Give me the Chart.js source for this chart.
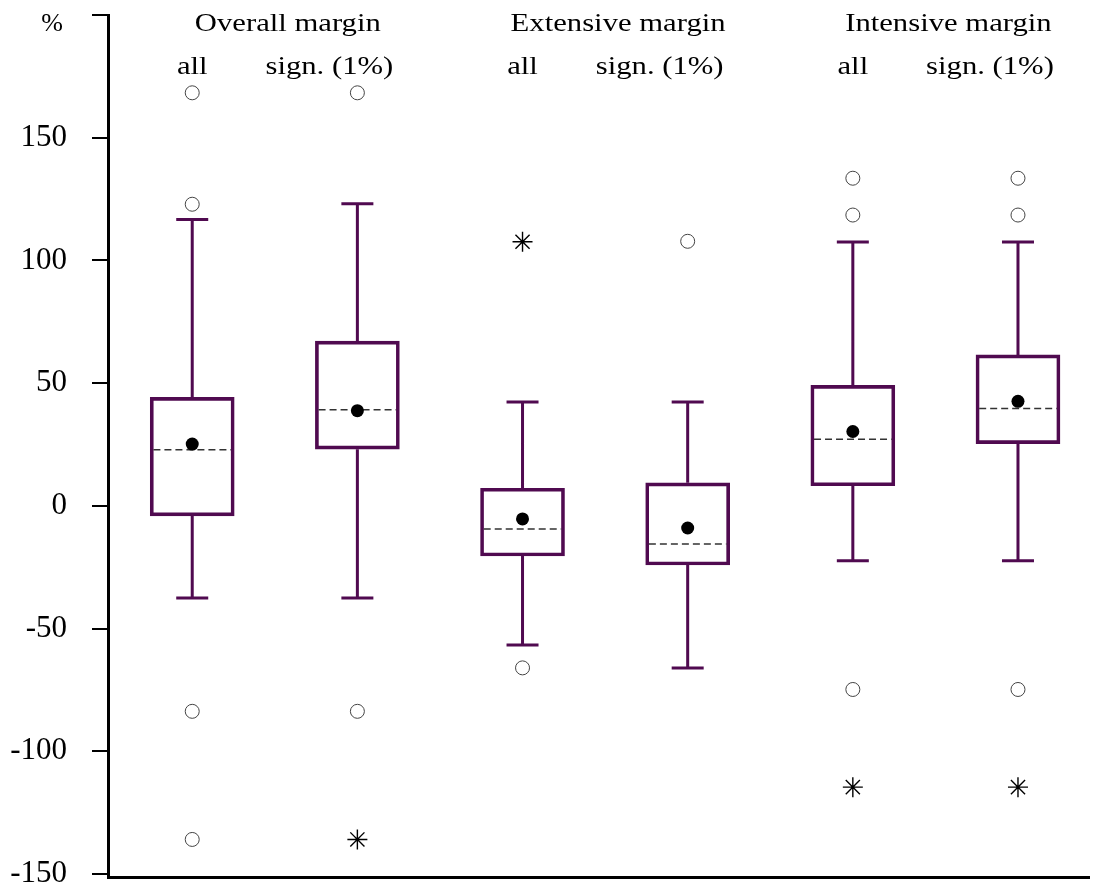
<!DOCTYPE html>
<html>
<head>
<meta charset="utf-8">
<script src="https://cdn.jsdelivr.net/npm/chart.js@4.4.1/dist/chart.umd.min.js"></script>
<style>
  html, body { margin: 0; padding: 0; background: #fff; overflow: hidden; }
  canvas { display: block; }
</style>
</head>
<body>
<canvas id="chart" width="1093" height="889"></canvas>
<script>
"use strict";

// ── Data ─────────────────────────────────────────────────────────────────────
// Six box plots: (overall / extensive / intensive margin) x (all / sign. 1%)

const GROUPS    = ["Overall margin", "Extensive margin", "Intensive margin"];
const SUBGROUPS = ["all", "sign. (1%)"];
const BOX_POS   = [1, 2, 3, 4, 5, 6];

const LOW  = [-37.5, -37.5, -56.7, -66.0, -22.4, -22.4];
const Q1   = [ -4.1,  23.1, -20.4, -24.1,   8.2,  25.4];
const MED  = [ 22.9,  39.2,  -9.4, -15.5,  27.2,  39.7];
const MEAN = [ 25.2,  38.8,  -5.3,  -9.0,  30.3,  42.6];
const Q3   = [ 44.2,  67.1,   7.2,   9.4,  49.1,  61.5];
const HIGH = [116.7, 123.1,  42.3,  42.3, 107.5, 107.5];

// outliers: which box, and the value
const CIRCLE_BOX = [1, 1, 1, 1, 2, 2, 3, 4, 5, 5, 5, 6, 6, 6];
const CIRCLE_VAL = [168.3, 122.9, -83.7, -135.9, 168.3, -83.7, -66.0, 107.8, 133.5, 118.5, -74.8, 133.5, 118.5, -74.8];
const STAR_BOX   = [2, 3, 5, 6];
const STAR_VAL   = [-135.9, 107.6, -114.6, -114.6];

const Y_TICKS = [-150, -100, -50, 0, 50, 100, 150, 200];
const Y_MIN = -151.2, Y_MAX = 200;

// ── Styling ──
const PURPLE = "#500a50";
const SERIF = '"Liberation Serif", "Times New Roman", serif';
const MED_HALF = 0.235;   // half width of the median dash, in x units

// ── Datasets built from the arrays ──
const boxData = BOX_POS.map((p, i) => ({ x: p, y: [Q1[i], Q3[i]] }));

const whiskerData = [];
BOX_POS.forEach((p, i) => {
  whiskerData.push({ x: p, y: LOW[i] }, { x: p, y: Q1[i] }, { x: p, y: null },
                   { x: p, y: Q3[i] }, { x: p, y: HIGH[i] }, { x: p, y: null });
});

const capData = BOX_POS.flatMap((p, i) => [{ x: p, y: LOW[i] }, { x: p, y: HIGH[i] }]);

const medianData = BOX_POS.flatMap((p, i) => [
  { x: p - MED_HALF, y: MED[i] }, { x: p + MED_HALF, y: MED[i] }, { x: p, y: null },
]);

const meanData   = BOX_POS.map((p, i) => ({ x: p, y: MEAN[i] }));
const circleData = CIRCLE_BOX.map((b, i) => ({ x: b, y: CIRCLE_VAL[i] }));
const starData   = STAR_BOX.map((b, i) => ({ x: b, y: STAR_VAL[i] }));

// ── Header labels above the boxes + "%" unit ──
const headerPlugin = {
  id: "header",
  afterDraw(chart) {
    const { ctx, scales: { x } } = chart;
    const put = (text, px, py, size, stretch) => {
      ctx.save();
      ctx.translate(px, py);
      ctx.scale(stretch, 1);
      ctx.font = `${size}px ${SERIF}`;
      ctx.fillStyle = "#000";
      ctx.textAlign = "center";
      ctx.textBaseline = "alphabetic";
      ctx.fillText(text, 0, 0);
      ctx.restore();
    };
    GROUPS.forEach((g, k) => {
      const a = x.getPixelForValue(BOX_POS[2 * k]);
      const b = x.getPixelForValue(BOX_POS[2 * k + 1]);
      put(g, (a + b) / 2 + 13, 31, 26, 1.18);
      put(SUBGROUPS[0], a, 74, 26, 1.18);
      put(SUBGROUPS[1], b - 28, 74, 26, 1.18);
    });
    put("%", 52, 31, 26, 1);
  },
};

new Chart(document.getElementById("chart"), {
  type: "bar",
  data: {
    datasets: [
      { type: "scatter", data: meanData, order: 0,
        pointStyle: "circle", pointRadius: 6.5, pointBorderWidth: 0, pointBackgroundColor: "#000" },
      { type: "scatter", data: circleData, order: 0,
        pointStyle: "circle", pointRadius: 7, pointBorderWidth: 1, pointBorderColor: "#444", pointBackgroundColor: "#fff" },
      { type: "scatter", data: starData, order: 0,
        pointStyle: "star", pointRadius: 10, pointBorderWidth: 1.4, pointBorderColor: "#000" },
      { type: "line", data: medianData, order: 1,
        borderColor: "#333", borderWidth: 1.5, borderDash: [7, 4], pointRadius: 0, spanGaps: false },
      { type: "scatter", data: capData, order: 2,
        pointStyle: "line", pointRadius: 16, pointBorderWidth: 3, pointBorderColor: PURPLE },
      { type: "line", data: whiskerData, order: 3,
        borderColor: PURPLE, borderWidth: 3, pointRadius: 0, spanGaps: false },
      { type: "bar", data: boxData, order: 4,
        backgroundColor: "rgba(0,0,0,0)", borderColor: PURPLE, borderWidth: 3,
        borderSkipped: false, barThickness: 84 },
    ],
  },
  options: {
    responsive: false,
    animation: false,
    devicePixelRatio: 1,
    layout: { autoPadding: false, padding: { top: 15, right: 4, bottom: 12, left: 0 } },
    plugins: { legend: { display: false }, tooltip: { enabled: false } },
    scales: {
      x: {
        type: "linear", min: 0.49, max: 6.43, offset: false,
        afterFit: s => { s.height = 0; s.paddingLeft = 0; s.paddingRight = 0; },
        ticks: { display: false },
        grid: { display: false, drawTicks: false },
        border: { display: true, color: "#000", width: 3 },
      },
      y: {
        type: "linear", min: Y_MIN, max: Y_MAX,
        afterBuildTicks: s => { s.ticks = Y_TICKS.map(v => ({ value: v })); },
        afterFit: s => { s.width = 108; s.paddingTop = 0; s.paddingBottom = 0; },
        ticks: {
          padding: 25, color: "#000", autoSkip: false,
          font: { family: SERIF, size: 31 },
          callback: v => (v === 200 ? "" : String(v)),
        },
        grid: { drawOnChartArea: false, drawTicks: true, tickLength: 16, color: "#000", lineWidth: 2 },
        border: { display: true, color: "#000", width: 3 },
      },
    },
  },
  plugins: [headerPlugin],
});
</script>
</body>
</html>
